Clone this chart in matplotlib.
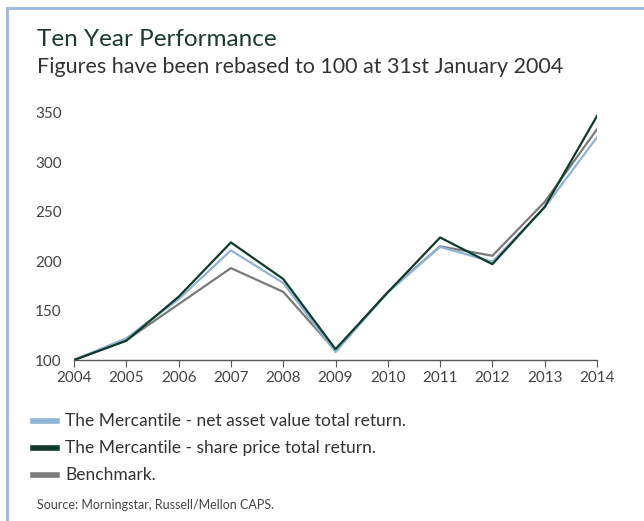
import matplotlib
matplotlib.use("Agg")
import matplotlib.pyplot as plt
from matplotlib.lines import Line2D

years = [2004, 2005, 2006, 2007, 2008, 2009, 2010, 2011, 2012, 2013, 2014]
nav = [100, 122, 161.5, 211, 178, 108, 168.5, 214.5, 199.5, 254.5, 325.5]
share = [100, 119.5, 164, 219, 182, 111, 168.5, 224, 197, 255, 347]
bench = [100, 120, 156.5, 193, 169, 109.5, 169, 215, 205.5, 260, 333.5]

labels = ["The Mercantile - net asset value total return.",
          "The Mercantile - share price total return.",
          "Benchmark."]
colors = ["#8fb4d6", "#0e3b2b", "#7a7a7a"]
yticks = [100, 150, 200, 250, 300, 350]

txt_font = "Lato"

fig = plt.figure(figsize=(6.44, 5.21), dpi=100)
ax = fig.add_axes([74 / 644, 1 - 360 / 521, (597 - 74) / 644, (360 - 113) / 521])

# draw order: benchmark under, then nav, then share price on top
ax.plot(years, bench, color=colors[2], lw=1.6, zorder=2)
ax.plot(years, nav, color=colors[0], lw=1.6, zorder=3)
ax.plot(years, share, color=colors[1], lw=1.6, zorder=4)

ax.set_xlim(2004, 2014)
ax.set_ylim(100, 350)
ax.set_xticks(years)
ax.set_yticks(yticks)
ax.tick_params(axis="x", direction="out", length=5, color="#555555",
               labelsize=10, labelcolor="#444444", pad=3)
ax.tick_params(axis="y", length=0, labelsize=10.5, labelcolor="#444444", pad=9)
for s in ["top", "right", "left"]:
    ax.spines[s].set_visible(False)
ax.spines["bottom"].set_color("#555555")
ax.spines["bottom"].set_linewidth(1)
ax.spines["bottom"].set_zorder(5)
for lab in ax.get_xticklabels() + ax.get_yticklabels():
    lab.set_family(txt_font)
    lab.set_fontsize(11)

# title block
fig.text(37 / 644, 1 - 39 / 521, "Ten Year Performance", fontsize=17.5,
         color="#1d3a2e", va="center", ha="left", family=txt_font)
fig.text(37 / 644, 1 - 67 / 521, "Figures have been rebased to 100 at 31st January 2004",
         fontsize=15.5, color="#333333", va="center", ha="left", family=txt_font)

# legend drawn by hand
for i, (lab, c) in enumerate(zip(labels, colors)):
    yy = 1 - (421 + i * 27) / 521
    fig.add_artist(Line2D([33 / 644, 57 / 644], [yy, yy], color=c, lw=4,
                          transform=fig.transFigure))
    fig.text(65 / 644, yy, lab, fontsize=12.5, color="#333333", va="center",
             ha="left", family=txt_font)

fig.text(37 / 644, 1 - 505 / 521, "Source: Morningstar, Russell/Mellon CAPS.",
         fontsize=9, color="#444444", va="center", ha="left", family=txt_font)

# light blue frame on left and top
fig.add_artist(Line2D([7 / 644, 7 / 644], [0, 1 - 8 / 521], color="#9bb9d9", lw=2,
                      transform=fig.transFigure))
fig.add_artist(Line2D([7 / 644, 1], [1 - 8 / 521, 1 - 8 / 521], color="#9bb9d9", lw=2,
                      transform=fig.transFigure))

fig.savefig("out.png", dpi=100)
